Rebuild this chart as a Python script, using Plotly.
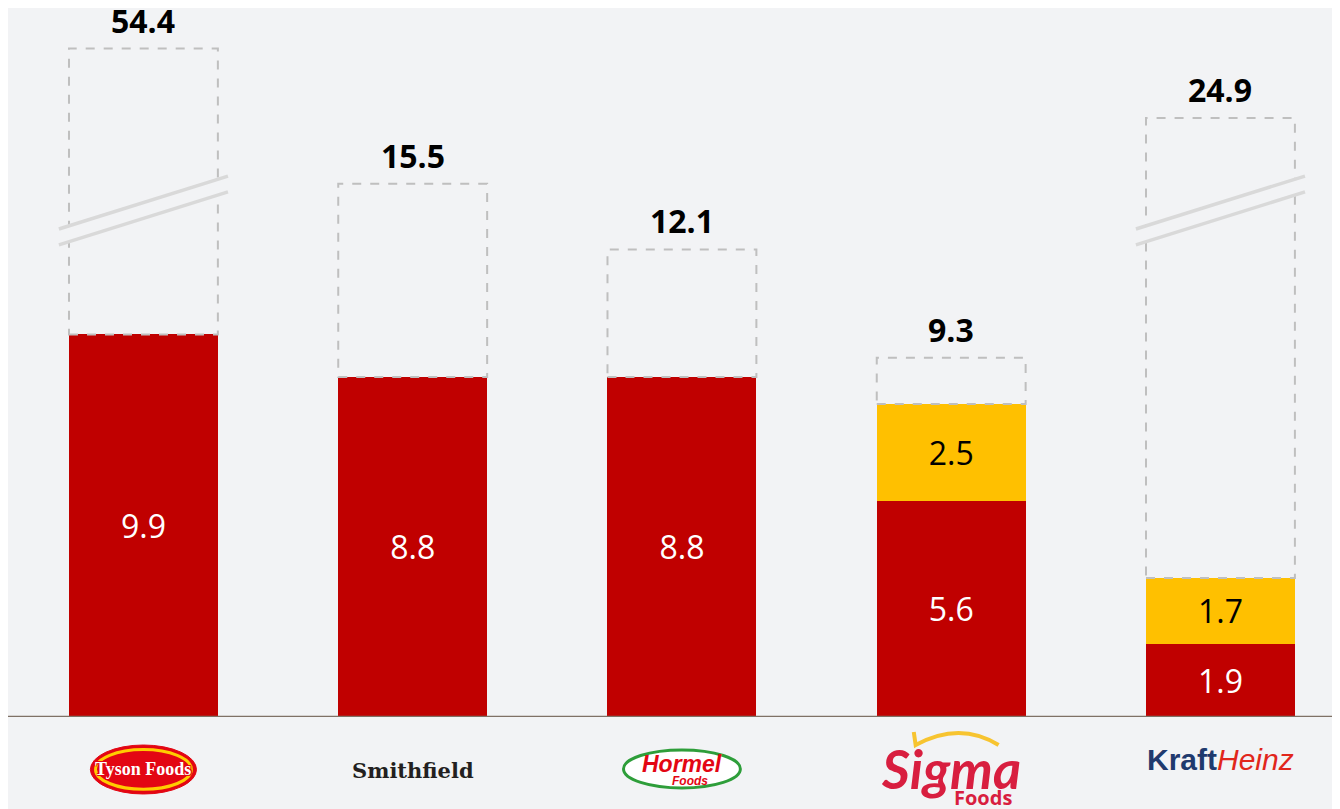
import plotly.graph_objects as go

companies = ['Tyson Foods', 'Smithfield', 'Hormel Foods', 'Sigma Foods', 'Kraft Heinz']
red_values = [9.9, 8.8, 8.8, 5.6, 1.9]
yellow_values = [None, None, None, 2.5, 1.7]
totals = [54.4, 15.5, 12.1, 9.3, 24.9]
# height the dashed total box is drawn to (Tyson and Kraft Heinz are cut by an axis break)
outline_shown = [17.3, 13.8, 12.1, 9.3, 15.5]
broken = [True, False, False, False, True]

RED = '#c00000'
YELLOW = '#ffc000'
BG = '#f2f3f5'
BAR_W = 0.553

x = list(range(len(companies)))

fig = go.Figure()
fig.add_trace(go.Bar(
    x=x, y=red_values, width=BAR_W, marker=dict(color=RED, line=dict(width=0)),
    text=[f'{v:.1f}' for v in red_values], textposition='inside', insidetextanchor='middle',
    textfont=dict(family='Open Sans', size=32, color='white'), constraintext='none',
    hoverinfo='skip'))
fig.add_trace(go.Bar(
    x=x, y=yellow_values, width=BAR_W, marker=dict(color=YELLOW, line=dict(width=0)),
    text=['' if v is None else f'{v:.1f}' for v in yellow_values], textposition='inside',
    insidetextanchor='middle', textfont=dict(family='Open Sans', size=32, color='black'),
    constraintext='none', hoverinfo='skip'))

shapes = []
annotations = []
for i in x:
    stack_top = red_values[i] + (yellow_values[i] or 0)
    shapes.append(dict(type='rect', xref='x', yref='y', x0=i - BAR_W / 2, x1=i + BAR_W / 2,
                       y0=stack_top, y1=outline_shown[i],
                       line=dict(color='#bfbfbf', width=2, dash='dash'), layer='above'))
    annotations.append(dict(x=i, y=outline_shown[i], xref='x', yref='y', text=f'<b>{totals[i]:.1f}</b>',
                            showarrow=False, yanchor='bottom', yshift=5,
                            font=dict(family='Open Sans', size=32, color='black')))
    if broken[i]:
        # axis break mark: two parallel slanted lines across the box
        xa, xb = i - 0.314, i + 0.314
        shapes.append(dict(type='path', xref='x', yref='y',
                           path=f'M {xa},{12.22} L {xb},{13.59} L {xb},{14.0} L {xa},{12.63} Z',
                           fillcolor=BG, line=dict(width=0), layer='above'))
        for ya, yb in [(12.63, 14.0), (12.22, 13.59)]:
            shapes.append(dict(type='line', xref='x', yref='y', x0=xa, y0=ya, x1=xb, y1=yb,
                               line=dict(color='#d9d9d9', width=3.5), layer='above'))

# baseline
shapes.append(dict(type='line', xref='paper', yref='y', x0=0, x1=1, y0=0, y1=0,
                   line=dict(color='#7f7166', width=2.5)))

# logo stand-ins below the axis
outline = ', '.join(f'{a}px {b}px 0 #e30613' for a in (-1, 1) for b in (-1, 1))
shapes.append(dict(type='circle', xref='x', yref='paper', x0=-0.197, x1=0.197, y0=-0.0395, y1=-0.1086,
                   fillcolor='#e30613', line=dict(color='#e30613', width=1)))
shapes.append(dict(type='circle', xref='x', yref='paper', x0=-0.178, x1=0.178, y0=-0.046, y1=-0.102,
                   fillcolor='#e30613', line=dict(color='#ffcc00', width=3)))
annotations.append(dict(x=0, y=-0.074, xref='x', yref='paper', text='<b>Tyson Foods</b>', showarrow=False,
                        yanchor='middle',
                        font=dict(family='Liberation Serif', size=18, color='white', shadow=outline)))
annotations.append(dict(x=1, y=-0.0748, xref='x', yref='paper', text='<b>Smithfield</b>', showarrow=False,
                        yanchor='middle', font=dict(family='DejaVu Serif', size=21, color='#231f20')))

shapes.append(dict(type='circle', xref='x', yref='paper', x0=2 - 0.217, x1=2 + 0.217, y0=-0.0465, y1=-0.100,
                   fillcolor='white', line=dict(color='#2e9e3a', width=3)))
annotations.append(dict(x=2, y=-0.0663, xref='x', yref='paper', text='<b><i>Hormel</i></b>', showarrow=False,
                        yanchor='middle', font=dict(family='Liberation Sans', size=23, color='#e30613')))
annotations.append(dict(x=2.03, y=-0.090, xref='x', yref='paper', text='<b><i>Foods</i></b>', showarrow=False,
                        yanchor='middle', font=dict(family='Liberation Sans', size=12, color='#e30613')))

annotations.append(dict(x=3, y=-0.072, xref='x', yref='paper', text='<b><i>Sigma</i></b>', showarrow=False,
                        yanchor='middle', font=dict(family='Lato', size=54, color='#d81e3f')))
annotations.append(dict(x=3.117, y=-0.1142, xref='x', yref='paper', text='<b>Foods</b>', showarrow=False,
                        yanchor='middle', font=dict(family='Open Sans', size=20, color='#d81e3f')))
shapes.append(dict(type='path', xref='x', yref='paper',
                   path='M 2.861,-0.0212 L 2.868,-0.0395 Q 3.032,-0.0056 3.176,-0.0395',
                   line=dict(color='#f7c430', width=4)))

annotations.append(dict(x=4, y=-0.0606, xref='x', yref='paper',
                        text="<b><span style='color:#1f3a6e'>Kraft</span></b>"
                             "<i><span style='color:#e1261c'>Heinz</span></i>",
                        showarrow=False, yanchor='middle', font=dict(family='Liberation Sans', size=30)))

fig.update_layout(
    barmode='stack',
    showlegend=False,
    width=1332, height=801,
    margin=dict(l=0, r=0, t=0, b=92),
    paper_bgcolor=BG, plot_bgcolor=BG,
    xaxis=dict(range=[-0.503, 4.444], visible=False, fixedrange=True),
    yaxis=dict(range=[0, 18.35], visible=False, fixedrange=True),
    shapes=shapes,
    annotations=annotations,
)

fig.write_html('out.html')
